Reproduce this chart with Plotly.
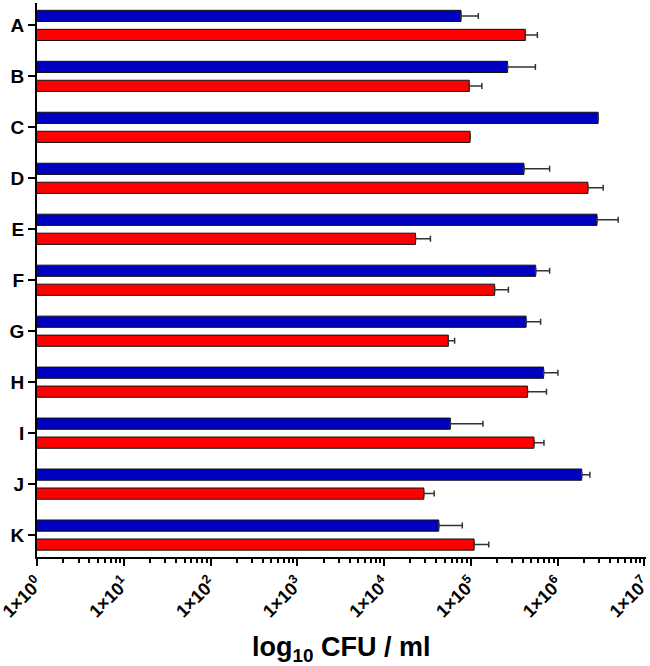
import plotly.graph_objects as go

categories = ["A", "B", "C", "D", "E", "F", "G", "H", "I", "J", "K"]
blue_values = [7.7e4, 2.65e5, 2.94e6, 4.1e5, 2.85e6, 5.6e5, 4.34e5, 6.9e5, 5.8e4, 1.9e6, 4.27e4]
blue_err = [4.5e4, 2.9e5, 0, 4.0e5, 2.15e6, 2.5e5, 2.04e5, 3.2e5, 8.0e4, 4.6e5, 3.7e4]
red_values = [4.25e5, 9.6e4, 9.8e4, 2.24e6, 2.3e4, 1.88e5, 5.5e4, 4.5e5, 5.35e5, 2.87e4, 1.09e5]
red_err = [1.6e5, 3.8e4, 0, 1.12e6, 1.12e4, 8.3e4, 1.0e4, 2.95e5, 1.62e5, 9.1e3, 5.2e4]

tick_vals = [1e0, 1e1, 1e2, 1e3, 1e4, 1e5, 1e6, 1e7]
tick_text = ["1×10<sup>%d</sup>" % i for i in range(8)]
x_title = "log<sub>10</sub> CFU / ml"

FONT = "Liberation Sans, Arial, sans-serif"

fig = go.Figure()
for vals, errs, color in [(blue_values, blue_err, "#0000C0"), (red_values, red_err, "#FF0000")]:
    fig.add_trace(go.Bar(
        y=categories, x=vals, orientation="h",
        marker=dict(color=color, line=dict(color="#111111", width=1)),
        error_x=dict(type="data", symmetric=False, array=errs, arrayminus=[0] * len(errs),
                     color="#333333", thickness=1.5, width=3),
        showlegend=False,
    ))

fig.update_layout(
    width=650, height=666,
    margin=dict(l=37, r=4, t=3, b=109, autoexpand=False),
    paper_bgcolor="white", plot_bgcolor="white",
    barmode="group", bargap=0.255, bargroupgap=0.41,
    font=dict(family=FONT, color="black"),
)
fig.update_xaxes(
    type="log", range=[-0.003, 7.02], automargin=False,
    tickvals=tick_vals, ticktext=tick_text, tickangle=-45,
    ticklabeloverflow="allow",
    tickfont=dict(size=18, weight="bold", family=FONT, color="black"),
    ticks="outside", ticklen=7, tickwidth=2, tickcolor="black",
    minor=dict(ticks="outside", ticklen=4, tickwidth=1.5, tickcolor="black", dtick="D1", showgrid=False),
    showline=True, linecolor="black", linewidth=2,
    showgrid=False, zeroline=False,
)
fig.update_yaxes(
    type="category", categoryorder="array", categoryarray=categories,
    range=[10.43, -0.44], automargin=False,
    tickfont=dict(size=19, weight="bold", family=FONT, color="black"),
    ticks="outside", ticklen=7, tickwidth=2, tickcolor="black",
    showline=True, linecolor="black", linewidth=2,
    showgrid=False, zeroline=False,
)
fig.add_annotation(
    text=x_title, xref="paper", yref="paper", x=0.5, y=-0.166,
    xanchor="center", yanchor="middle", showarrow=False,
    font=dict(size=27, weight="bold", family=FONT, color="black"),
)

fig.write_html(
    "out.html",
    config={"displayModeBar": False},
    post_script="document.body.style.margin='0';document.body.style.overflow='hidden';",
)
